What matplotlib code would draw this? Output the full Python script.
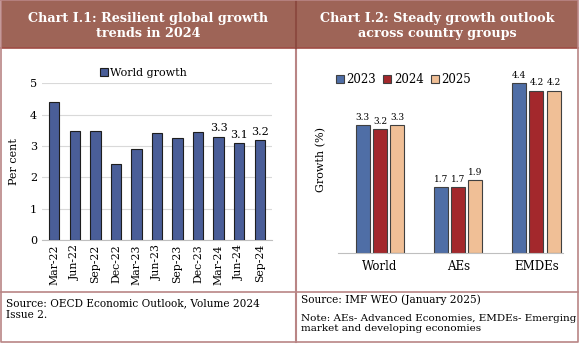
import matplotlib.pyplot as plt
import numpy as np
from matplotlib.patches import Rectangle

plt.rcParams['font.family'] = ['DejaVu Serif']

# Chart I.1 data
quarters = ['Mar-22', 'Jun-22', 'Sep-22', 'Dec-22', 'Mar-23', 'Jun-23',
            'Sep-23', 'Dec-23', 'Mar-24', 'Jun-24', 'Sep-24']
world_growth = [4.4, 3.47, 3.49, 2.44, 2.9, 3.43, 3.25, 3.45, 3.3, 3.1, 3.2]

# Chart I.2 data
groups = ['World', 'AEs', 'EMDEs']
years = ['2023', '2024', '2025']
growth_2023 = [3.3, 1.7, 4.4]
growth_2024 = [3.2, 1.7, 4.2]
growth_2025 = [3.3, 1.9, 4.2]

W, H = 585, 348
fig = plt.figure(figsize=(W / 100, H / 100), dpi=100)


def box(x0, y0, x1, y1):
    # pixel box (top-left origin) -> figure fraction rect
    return [x0 / W, 1 - y1 / H, (x1 - x0) / W, (y1 - y0) / H]


# frame, header band and dividers
frame = fig.add_axes([0, 0, 1, 1])
frame.set_xlim(0, W)
frame.set_ylim(H, 0)
frame.axis('off')
head = '#9E6457'
line = '#B98585'
frame.add_patch(Rectangle((1, 0), 577, 48, facecolor=head, edgecolor='none'))
frame.plot([1, 578], [48, 48], color='#A04C44', lw=1.2)
frame.plot([296, 296], [0, 342], color=line, lw=1.5)
frame.plot([296, 296], [0, 48], color='#8C4A40', lw=1.5)
frame.plot([1, 1, 578, 578, 1], [0, 342, 342, 0, 0], color=line, lw=1.2)
frame.plot([1, 578], [292, 292], color=line, lw=1.2)

frame.text(148, 26, 'Chart I.1: Resilient global growth\ntrends in 2024',
           ha='center', va='center', color='white', fontsize=9.2,
           fontweight='bold', linespacing=1.12)
frame.text(437, 26, 'Chart I.2: Steady growth outlook\nacross country groups',
           ha='center', va='center', color='white', fontsize=9.2,
           fontweight='bold', linespacing=1.12)

frame.text(6, 309, 'Source: OECD Economic Outlook, Volume 2024\nIssue 2.',
           ha='left', va='center', fontsize=7.6, linespacing=1.15)
frame.text(301, 300, 'Source: IMF WEO (January 2025)',
           ha='left', va='center', fontsize=7.6)
frame.text(301, 323.5, 'Note: AEs- Advanced Economies, EMDEs- Emerging\n'
           'market and developing economies',
           ha='left', va='center', fontsize=7.5, linespacing=1.1)

# Chart I.1: world growth bars
ax1 = fig.add_axes(box(42, 83.3, 272, 240))
x = np.arange(len(quarters))
ax1.bar(x, world_growth, width=0.5, color='#4A5E98',
        edgecolor='#1E1E1E', linewidth=0.8, label='World growth', zorder=3)
ax1.set_ylim(0, 5)
ax1.set_xlim(-0.6, len(quarters) - 0.4)
ax1.set_yticks(range(6))
ax1.tick_params(axis='y', length=0, labelsize=8)
ax1.set_xticks(x)
ax1.set_xticklabels(quarters, rotation=90, fontsize=7.8)
ax1.tick_params(axis='x', length=0, pad=3)
ax1.grid(axis='y', color='#D9D9D9', lw=0.8, zorder=0)
for s in ['top', 'right', 'left']:
    ax1.spines[s].set_visible(False)
ax1.spines['bottom'].set_color('#BFBFBF')
ax1.set_ylabel('Per cent', fontsize=8, labelpad=8)
for i in range(8, len(quarters)):
    ax1.text(x[i], world_growth[i] + 0.1, f'{world_growth[i]:.1f}',
             ha='center', va='bottom', fontsize=8)
ax1.legend(loc='upper center', bbox_to_anchor=(0.44, 1.125), frameon=False,
           fontsize=8, handlelength=0.7, handleheight=0.7, handletextpad=0.2,
           borderaxespad=0)

# Chart I.2: growth by country group
ax2 = fig.add_axes(box(337.7, 65, 563, 253.3))
gx = np.arange(len(groups))
colors = ['#4F6EA6', '#A3282C', '#F0BF96']
series = [growth_2023, growth_2024, growth_2025]
for k, (yr, vals, c) in enumerate(zip(years, series, colors)):
    pos = gx + (k - 1) * 0.22
    ax2.bar(pos, vals, width=0.18, color=c, edgecolor='#404040',
            linewidth=0.8, label=yr)
    for p, v in zip(pos, vals):
        ax2.text(p, v + 0.08, f'{v:.1f}', ha='center', va='bottom', fontsize=6.5)
ax2.set_ylim(0, 4.86)
ax2.set_xlim(-0.54, 2.34)
ax2.set_yticks([])
ax2.set_xticks(gx)
ax2.set_xticklabels(groups, fontsize=8.5)
ax2.tick_params(axis='x', length=0, pad=5)
for s in ['top', 'right', 'left']:
    ax2.spines[s].set_visible(False)
ax2.spines['bottom'].set_color('#BFBFBF')
ax2.set_ylabel('Growth (%)', fontsize=8, labelpad=8)
ax2.legend(loc='upper left', bbox_to_anchor=(-0.03, 0.98), ncol=3,
           frameon=False, fontsize=8.5, handlelength=0.7, handleheight=0.7,
           handletextpad=0.2, columnspacing=0.6, borderaxespad=0)

fig.savefig('out.png', dpi=100)
